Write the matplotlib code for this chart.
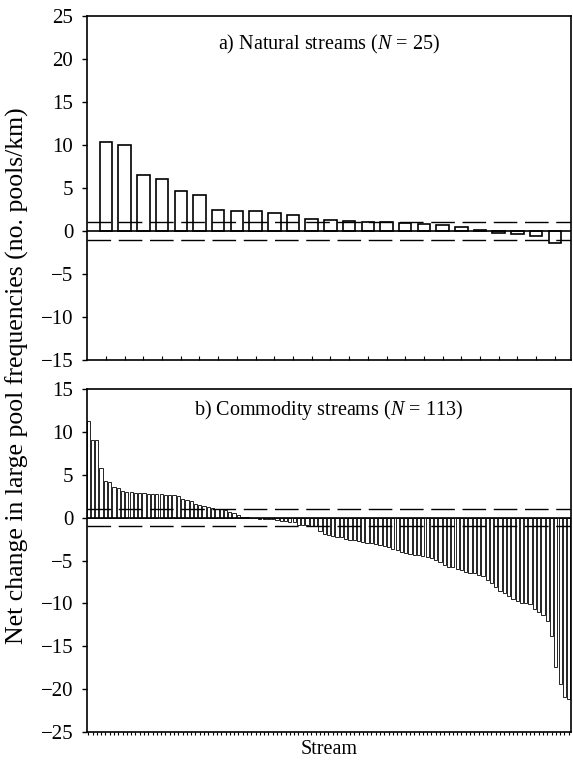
import matplotlib
matplotlib.use("Agg")
import matplotlib.pyplot as plt
import numpy as np

plt.rcParams['font.family'] = ['Liberation Serif', 'DejaVu Serif']
plt.rcParams['mathtext.fontset'] = 'custom'
plt.rcParams['mathtext.rm'] = 'Liberation Serif'
plt.rcParams['mathtext.it'] = 'Liberation Serif:italic'

# a) natural streams, sorted net change (no. pools/km)
natural = [10.4, 10.0, 6.5, 6.1, 4.6, 4.2, 2.4, 2.3, 2.3, 2.1, 1.9, 1.4, 1.3,
           1.2, 1.0, 1.0, 0.9, 0.8, 0.7, 0.5, 0.1, -0.2, -0.3, -0.6, -1.4]

# b) commodity streams
commodity = [11.3, 9.1, 9.1, 5.8, 4.3, 4.2, 3.6, 3.45, 3.1, 3.0,
             2.95, 2.9, 2.9, 2.85, 2.8, 2.8, 2.8, 2.75, 2.7, 2.7,
             2.6, 2.5, 2.2, 2.1, 2.0, 1.6, 1.5, 1.4, 1.3, 1.1,
             1.0, 1.0, 0.95, 0.7, 0.5, 0.3, 0.1, 0.05,
             0.0, -0.05, -0.1, -0.1, -0.15, -0.2,
             -0.3, -0.35, -0.4, -0.45, -0.5,
             -0.8, -0.85, -0.9, -0.95, -1.0,
             -1.6, -1.9,
             -2.0, -2.1, -2.2, -2.3,
             -2.45, -2.55, -2.6, -2.7,
             -2.8, -2.9, -3.0, -3.1,
             -3.2, -3.3, -3.4, -3.6,
             -3.8, -4.0, -4.1, -4.2, -4.3,
             -4.4, -4.5, -4.6, -4.7,
             -4.9, -5.2, -5.5, -5.7,
             -5.8, -6.0, -6.1, -6.3,
             -6.4, -6.5, -6.7, -6.8,
             -7.3, -7.6, -8.1,
             -8.5, -8.8, -9.1, -9.5,
             -9.7, -9.9, -10.0, -10.1,
             -10.7, -11.0, -11.3, -12.0,
             -13.8, -17.4, -19.4, -20.9, -21.2]

band = 1.0  # +/- reference lines
titles = [r"a) Natural streams ($\mathit{N}$ = 25)",
          r"b) Commodity streams ($\mathit{N}$ = 113)"]

fig = plt.figure(figsize=(5.73, 7.67), dpi=100)
ax1 = fig.add_axes([0.151, 0.5306, 0.846, 0.4485])
ax2 = fig.add_axes([0.151, 0.0456, 0.846, 0.447])

dash = (0, (17, 5.5))

# top panel
x1 = np.arange(1, len(natural) + 1)
ax1.bar(x1, natural, width=0.67, facecolor='white', edgecolor='black', linewidth=1.2)
ax1.set_xlim(-0.04, 25.88)
ax1.set_ylim(-15, 25)
ax1.set_yticks(np.arange(-15, 26, 5))
ax1.set_xticks(x1)
ax1.tick_params(axis='x', direction='in', length=3, labelbottom=False)
ax1.text(0.5, 0.916, titles[0], transform=ax1.transAxes, ha='center', va='center', fontsize=14.5)

# bottom panel
x2 = np.arange(1, len(commodity) + 1)
ax2.bar(x2, commodity, width=0.75, facecolor='white', edgecolor='black', linewidth=0.6)
ax2.set_xlim(0.6, 113.6)
ax2.set_ylim(-25, 15)
ax2.set_yticks(np.arange(-25, 16, 5))
ax2.set_xticks(x2)
ax2.tick_params(axis='x', direction='out', length=2.5, width=0.8, labelbottom=False)
ax2.text(0.5, 0.939, titles[1], transform=ax2.transAxes, ha='center', va='center', fontsize=14.5)
ax2.set_xlabel("Stream", fontsize=14.5, labelpad=3)

for ax in (ax1, ax2):
    ax.axhline(0, color='black', lw=1.2)
    ax.axhline(band, color='black', lw=1.0, linestyle=dash)
    ax.axhline(-band, color='black', lw=1.0, linestyle=dash)
    ax.tick_params(axis='y', direction='out', length=3.5, width=1, labelsize=15, pad=6)
    for s in ax.spines.values():
        s.set_linewidth(1.2)

fig.text(0.03, 0.51, "Net change in large pool frequencies (no. pools/km)",
         rotation=90, ha='center', va='center', fontsize=18.5)

plt.savefig("out.png", dpi=100)
